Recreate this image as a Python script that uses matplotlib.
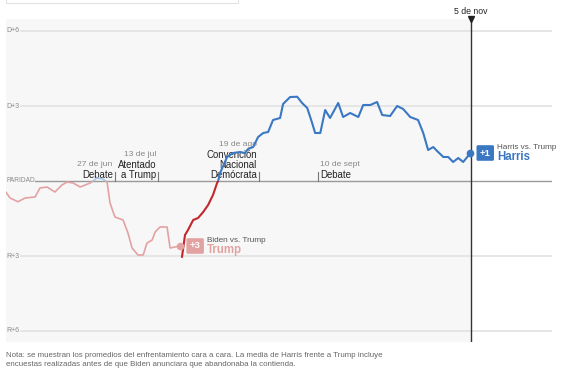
"""Promedio de encuestas cara a cara: Harris/Biden vs. Trump."""

import numpy as np
import pandas as pd
import matplotlib
matplotlib.use('Agg')
import matplotlib.pyplot as plt
from matplotlib.patches import Rectangle

plt.rcParams['font.family'] = ['Liberation Sans', 'DejaVu Sans']

START = pd.Timestamp('2024-05-18')
END_DAYS = 201

# Biden vs. Trump average (days since START, margin: + = Democrat)
biden_days = [0, 1.5, 4.4, 7, 10.7, 12.5, 15.1, 18, 20.6, 22.5, 24.7, 27.3, 31, 33.5,
              35.7, 37.2, 38.3, 40.1, 43.1, 44.9, 46.4, 48.6, 50.5, 51.9, 53.8, 54.9,
              56.7, 59.3, 60.4, 62.2, 64.1]
biden_vals = [-0.45, -0.68, -0.83, -0.68, -0.64, -0.28, -0.24, -0.44, -0.16, -0.04,
              -0.08, -0.24, -0.08, 0.12, 0.08, -0.04, -0.88, -1.44, -1.56, -2.08,
              -2.68, -2.96, -2.96, -2.48, -2.36, -2.04, -1.84, -1.84, -2.68, -2.64, -2.6]

# Harris vs. Trump average
harris_days = [64.8, 65.9, 67, 68.9, 70.7, 72.6, 74.4, 76.2, 77.7, 78.1, 78.8, 81.4,
               83.6, 86.2, 88, 89.1, 91, 92.8, 94.7, 96.5, 98.3, 100.9, 102, 104.6,
               107.2, 109, 110.9, 112.7, 113.8, 115.7, 117.5, 119.3, 122.3, 124.1,
               126.7, 129.7, 131.5, 134.1, 136.6, 138.5, 141.4, 144, 146.2, 148.8,
               151.7, 153.6, 155.4, 157.3, 158.7, 161, 162.8, 164.6, 166.5, 168.3,
               169.8, 170.9]
harris_vals = [-3.03, -2.16, -1.96, -1.56, -1.48, -1.24, -0.96, -0.56, -0.08, 0, 0.32,
               0.96, 1.12, 1.16, 1.12, 1.28, 1.36, 1.76, 1.92, 1.96, 2.44, 2.52, 3.08,
               3.36, 3.37, 3.12, 2.92, 2.32, 1.92, 1.92, 2.84, 2.52, 3.12, 2.56, 2.72,
               2.56, 3.04, 3.04, 3.16, 2.64, 2.6, 3.0, 2.88, 2.56, 2.44, 1.92, 1.24,
               1.36, 1.2, 0.96, 0.96, 0.76, 0.92, 0.76, 0.96, 1.12]

grid_vals = [6, 3, -3, -6]
grid_labels = ['D+6', 'D+3', 'R+3', 'R+6']

event_dates = ['2024-06-27', '2024-07-13', '2024-08-19', '2024-09-10']
event_dates_txt = ['27 de jun', '13 de jul', '19 de ago', '10 de sept']
event_names = [['Debate'], ['Atentado', 'a Trump'], ['Convención', 'Nacional', 'Demócrata'],
               ['Debate']]
event_align = ['right', 'right', 'right', 'left']

ELECTION = pd.Timestamp('2024-11-05')

NOTE = ('Nota: se muestran los promedios del enfrentamiento cara a cara. La media de Harris '
        'frente a Trump incluye\nencuestas realizadas antes de que Biden anunciara que '
        'abandonaba la contienda.')

BLUE = '#3b78c3'
RED = '#c0282d'
LIGHT_RED = '#e3a2a2'
LIGHT_BLUE = '#a9c8e8'

W, H = 580, 382
PT = 0.72  # points per pixel at dpi 100

fig = plt.figure(figsize=(W / 100, H / 100), dpi=100)
ax = fig.add_axes([6 / W, 1 - 342 / H, 546 / W, 323 / H])
ax.set_xlim(0, END_DAYS)
ax.set_ylim(-6.44, 6.48)
ax.axis('off')

# faint box at the very top (page UI remnant)
fig.patches.append(Rectangle((6 / W, 1 - 3 / H), 232 / W, 10 / H, transform=fig.transFigure,
                             fc='none', ec='#e2e2e2', lw=0.8))

elec_day = (ELECTION - START).days
ax.axvspan(0, elec_day, color='#f7f7f7', zorder=0, lw=0)

for v, lab in zip(grid_vals, grid_labels):
    ax.axhline(v, xmin=0.027, color='#e4e4e4', lw=1.3, zorder=1)
    ax.text(0.3, v, lab, va='center', ha='left', fontsize=5.0, color='#8a8a8a')
ax.axhline(0, xmin=0.053, color='#9a9a9a', lw=1.0, zorder=2)
ax.text(0.3, 0, 'PARIDAD', va='center', ha='left', fontsize=4.8, color='#8a8a8a')

# election day line
ax.axvline(elec_day, color='#333333', lw=1.0, zorder=4)
ax.plot(elec_day, 6.48, marker='v', ms=5, color='#222222', clip_on=False, zorder=5)
ax.annotate('5 de nov', (elec_day, 1), xycoords=('data', 'axes fraction'),
            xytext=(0, 7 * PT), textcoords='offset points', ha='center', va='center',
            fontsize=6.3, color='#222222')

# events
for d, dt, names, al in zip(event_dates, event_dates_txt, event_names, event_align):
    x = (pd.Timestamp(d) - START).days
    ax.plot([x, x], [0, 0.36], color='#777777', lw=0.8, zorder=3)
    dx = -2 if al == 'right' else 2
    lines = [(dt, '#888888', 6.1)] + [(n, '#222222', 6.9) for n in names]
    n = len(lines)
    for i, (txt, col, fs) in enumerate(lines):
        yoff = 6 + 10 * (n - 1 - i)
        ax.annotate(txt, (x, 0), xytext=(dx * PT, yoff * PT), textcoords='offset points',
                    ha=al, va='center', fontsize=fs, color=col, zorder=3)

# clip regions above / below parity
up = Rectangle((0, 0), END_DAYS, 10, transform=ax.transData)
down = Rectangle((0, -10), END_DAYS, 10, transform=ax.transData)

l1, = ax.plot(biden_days, biden_vals, color=LIGHT_RED, lw=1.2, zorder=5,
              solid_joinstyle='round')
l1.set_clip_path(down)
l2, = ax.plot(biden_days, biden_vals, color=LIGHT_BLUE, lw=1.2, zorder=5,
              solid_joinstyle='round')
l2.set_clip_path(up)
l3, = ax.plot(harris_days, harris_vals, color=RED, lw=1.5, zorder=6,
              solid_joinstyle='round')
l3.set_clip_path(down)
l4, = ax.plot(harris_days, harris_vals, color=BLUE, lw=1.5, zorder=6,
              solid_joinstyle='round')
l4.set_clip_path(up)

# end labels
for days, vals, col, big, small, num in [
        (harris_days, harris_vals, BLUE, 'Harris', 'Harris vs. Trump', '+1'),
        (biden_days, biden_vals, LIGHT_RED, 'Trump', 'Biden vs. Trump', '+3')]:
    x, y = days[-1], vals[-1]
    ax.plot(x, y, 'o', ms=4.5, color=col, zorder=7)
    ax.annotate(num, (x, y), xytext=(15 * PT, 0), textcoords='offset points',
                ha='center', va='center', fontsize=6.8, fontweight='bold', color='white',
                bbox=dict(boxstyle='round,pad=0.35,rounding_size=0.15', fc=col, ec='none'),
                zorder=7)
    ax.annotate(small, (x, y), xytext=(27 * PT, 5.5 * PT), textcoords='offset points',
                ha='left', va='center', fontsize=5.9, color='#555555', zorder=7)
    ax.annotate(big, (x, y), xytext=(27 * PT, -4 * PT), textcoords='offset points',
                ha='left', va='center', fontsize=8.3, fontweight='bold', color=col, zorder=7)

fig.text(6 / W, 1 - 360 / H, NOTE, ha='left', va='center', fontsize=5.7, color='#666666',
         linespacing=1.55)

fig.savefig('out.png', dpi=100)
